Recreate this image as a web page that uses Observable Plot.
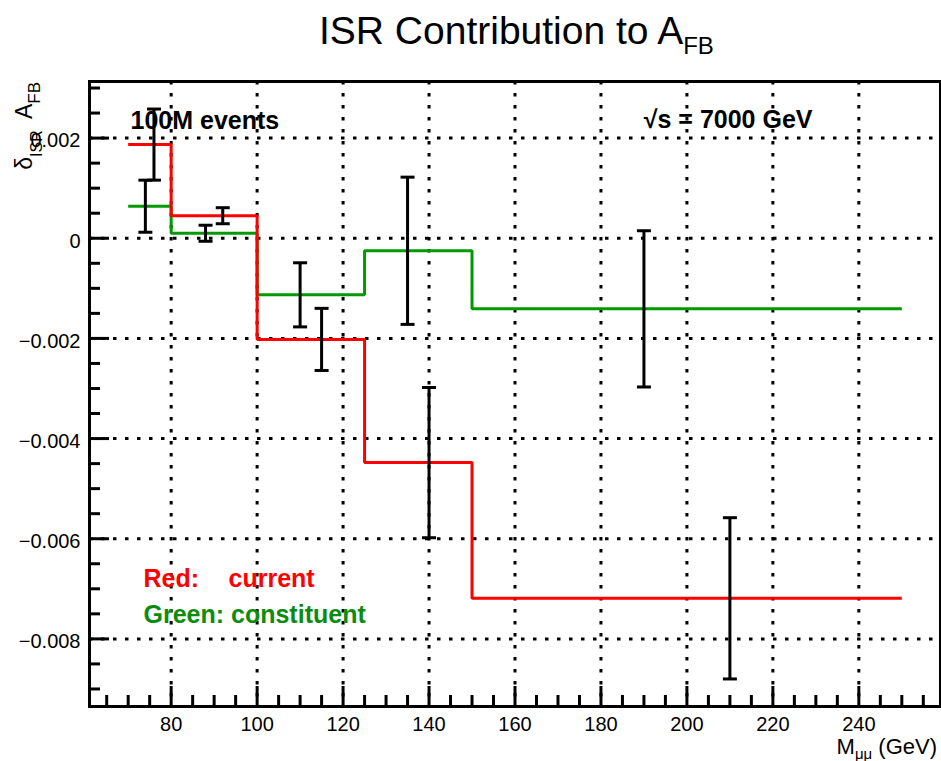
<!DOCTYPE html>
<html>
<head>
<meta charset="utf-8">
<script src="https://cdn.jsdelivr.net/npm/d3@7"></script>
<script src="https://cdn.jsdelivr.net/npm/@observablehq/plot@0.6"></script>
<style>
  html, body { margin: 0; padding: 0; background: #fff; }
  #chart { width: 941px; height: 761px; }
  svg { display: block; }
</style>
</head>
<body>
<div id="chart"></div>
<script>
// ---- data ----
const binEdges = [70, 80, 100, 125, 150, 250];
const redValues = [0.00187, 0.00045, -0.00202, -0.00448, -0.00719];
const greenValues = [0.00064, 0.00010, -0.00113, -0.00025, -0.00141];
const redPointX = [76, 92, 115, 140, 210];
const redErrors = [0.00071, 0.00016, 0.00062, 0.00150, 0.00161];
const greenPointX = [74, 88, 110, 135, 190];
const greenErrors = [0.00052, 0.00016, 0.00064, 0.00147, 0.00156];
const xTicks = [80, 100, 120, 140, 160, 180, 200, 220, 240];
const yTicks = [0.002, 0, -0.002, -0.004, -0.006, -0.008];
const xDomain = [61, 259];
const yDomain = [-0.00935, 0.00313];

// ---- styles ----
const RED = "#ff0000";
const GREEN = "#009900";
const GREEN_TEXT = "#0c8c0c";
const W = 941, H = 761;
const M = {top: 81, right: 1, bottom: 55, left: 89};
const innerW = W - M.left - M.right;
const innerH = H - M.top - M.bottom;

function stepPoints(values) {
  const pts = values.map((v, i) => ({x: binEdges[i], y: v}));
  pts.push({x: binEdges[binEdges.length - 1], y: values[values.length - 1]});
  return pts;
}
const errPoints = [
  ...redPointX.map((x, i) => ({x, y: redValues[i], e: redErrors[i]})),
  ...greenPointX.map((x, i) => ({x, y: greenValues[i], e: greenErrors[i]}))
];

const xMinor = d3.range(65, 259, 5).filter(v => !xTicks.includes(v));
const yMinor = d3.range(-18, 7).map(k => k * 0.0005).filter(v => !yTicks.some(t => Math.abs(t - v) < 1e-9));

const capSymbol = {draw(ctx) { ctx.moveTo(-7, 0); ctx.lineTo(7, 0); }};
const yFmt = d => Math.abs(d) < 1e-12 ? "0" : d3.format(".3f")(d);

const chart = Plot.plot({
  width: W,
  height: H,
  marginTop: M.top,
  marginRight: M.right,
  marginBottom: M.bottom,
  marginLeft: M.left,
  style: {fontFamily: "'Liberation Sans', Arial, Helvetica, sans-serif", fontSize: "20px", background: "white", overflow: "visible", color: "black"},
  x: {domain: xDomain},
  y: {domain: yDomain},
  marks: [
    // dotted grid
    Plot.ruleX(xTicks, {stroke: "black", strokeWidth: 3, strokeDasharray: "3.5,8.5"}),
    Plot.ruleY(yTicks, {stroke: "black", strokeWidth: 3, strokeDasharray: "3.5,8.5"}),
    // inward ticks
    Plot.tickX(xTicks, {stroke: "black", strokeWidth: 3, insetTop: innerH - 20}),
    Plot.tickX(xMinor, {stroke: "black", strokeWidth: 3, insetTop: innerH - 11}),
    Plot.tickY(yTicks, {stroke: "black", strokeWidth: 3, insetRight: innerW - 20}),
    Plot.tickY(yMinor, {stroke: "black", strokeWidth: 3, insetRight: innerW - 11}),
    // axes labels
    Plot.axisX({ticks: xTicks, tickSize: 0, tickPadding: 10, label: null, fontSize: 20}),
    Plot.axisY({ticks: yTicks, tickSize: 0, tickPadding: 9, tickFormat: yFmt, label: null, fontSize: 20, dy: 3}),
    Plot.frame({stroke: "black", strokeWidth: 3}),
    // step lines
    Plot.line(stepPoints(greenValues), {x: "x", y: "y", curve: "step-after", stroke: GREEN, strokeWidth: 3, strokeLinejoin: "miter", strokeLinecap: "butt"}),
    Plot.line(stepPoints(redValues), {x: "x", y: "y", curve: "step-after", stroke: RED, strokeWidth: 3, strokeLinejoin: "miter", strokeLinecap: "butt"}),
    // error bars
    Plot.ruleX(errPoints, {x: "x", y1: d => d.y - d.e, y2: d => d.y + d.e, stroke: "black", strokeWidth: 3}),
    Plot.dot(errPoints, {x: "x", y: d => d.y - d.e, symbol: capSymbol, fill: "none", stroke: "black", strokeWidth: 3}),
    Plot.dot(errPoints, {x: "x", y: d => d.y + d.e, symbol: capSymbol, fill: "none", stroke: "black", strokeWidth: 3}),
    // annotations
    Plot.text(["100M events"], {frameAnchor: "top-left", dx: 41, dy: 47, lineAnchor: "bottom", textAnchor: "start", fontSize: 25, fontWeight: "bold", fill: "black"}),
    Plot.text(["√s = 7000 GeV"], {frameAnchor: "top-right", dx: -128, dy: 46, lineAnchor: "bottom", textAnchor: "end", fontSize: 25, fontWeight: "bold", fill: "black"}),
    Plot.text(["Red:"], {frameAnchor: "top-left", dx: 54, dy: 505, lineAnchor: "bottom", textAnchor: "start", fontSize: 25, fontWeight: "bold", fill: RED}),
    Plot.text(["current"], {frameAnchor: "top-left", dx: 139, dy: 505, lineAnchor: "bottom", textAnchor: "start", fontSize: 25, fontWeight: "bold", fill: RED}),
    Plot.text(["Green: constituent"], {frameAnchor: "top-left", dx: 54, dy: 541, lineAnchor: "bottom", textAnchor: "start", fontSize: 25, fontWeight: "bold", fill: GREEN_TEXT})
  ]
});

document.getElementById("chart").appendChild(chart);

// titles with subscripts
const svg = d3.select(chart);
const ff = "'Liberation Sans', Arial, Helvetica, sans-serif";

const title = svg.append("text").attr("x", 319).attr("y", 44).attr("text-anchor", "start")
  .attr("font-family", ff).attr("font-size", 39).attr("fill", "black");
title.append("tspan").text("ISR Contribution to A");
title.append("tspan").attr("font-size", 24).attr("dy", 10).text("FB");

const xt = svg.append("text").attr("x", 937).attr("y", 754).attr("text-anchor", "end")
  .attr("font-family", ff).attr("font-size", 22).attr("fill", "black");
xt.append("tspan").text("M");
xt.append("tspan").attr("font-size", 15).attr("dy", 5).text("μμ");
xt.append("tspan").attr("dy", -5).text(" (GeV)");

const yt = svg.append("text").attr("transform", "translate(32,82) rotate(-90)").attr("text-anchor", "end")
  .attr("font-family", ff).attr("font-size", 23).attr("fill", "black");
yt.append("tspan").text("δ");
yt.append("tspan").attr("font-size", 16).attr("dy", 10).text("ISR");
yt.append("tspan").attr("dy", -10).attr("dx", 6).text(" A");
yt.append("tspan").attr("font-size", 17).attr("dy", 8).text("FB");
</script>
</body>
</html>
